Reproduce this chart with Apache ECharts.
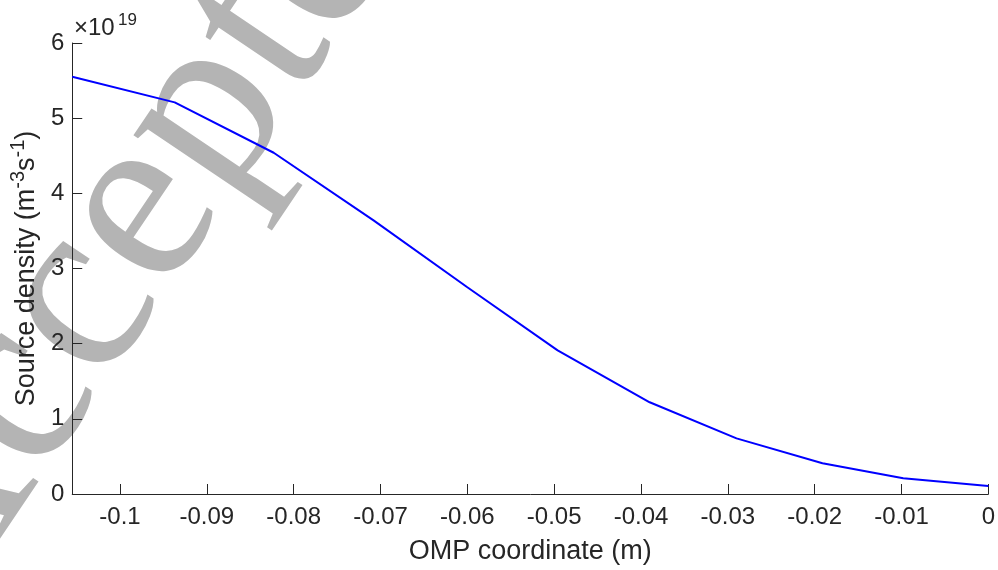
<!DOCTYPE html>
<html>
<head>
<meta charset="utf-8">
<script src="https://cdn.jsdelivr.net/npm/echarts@6/dist/echarts.min.js"></script>
<style>
  html, body { margin: 0; padding: 0; background: #fff; }
  #chart { width: 998px; height: 570px; }
</style>
</head>
<body>
<div id="chart"></div>
<script>
// OMP coordinate (m)
var ompCoord = [-0.1055, -0.0937, -0.0823, -0.0708, -0.0600, -0.0496, -0.0390, -0.0290, -0.0191, -0.0098, 0];
// source density, in units of 1e19 m^-3 s^-1
var sourceDensity = [5.55, 5.21, 4.54, 3.64, 2.75, 1.91, 1.22, 0.74, 0.41, 0.21, 0.105];

var xTicks = [-0.1, -0.09, -0.08, -0.07, -0.06, -0.05, -0.04, -0.03, -0.02, -0.01, 0];
var xTickLabels = ["-0.1", "-0.09", "-0.08", "-0.07", "-0.06", "-0.05", "-0.04", "-0.03", "-0.02", "-0.01", "0"];
var yTickLabels = ["0", "1", "2", "3", "4", "5", "6"];

var axisColor = "#262626";
var sans = "Liberation Sans";

var chart = echarts.init(document.getElementById("chart"));

var points = ompCoord.map(function (x, i) {
  return [x, sourceDensity[i]];
});

var option = {
  animation: false,
  backgroundColor: "#fff",
  grid: { left: 71, right: 8, top: 43, bottom: 71 },
  xAxis: {
    type: "value",
    min: -0.1055,
    max: 0,
    name: "OMP coordinate (m)",
    nameLocation: "middle",
    nameGap: 44,
    nameTextStyle: { fontSize: 27, fontFamily: sans, color: axisColor },
    axisLine: { show: true, onZero: false, lineStyle: { color: axisColor, width: 1 } },
    axisTick: { show: true, inside: true, length: 10, customValues: xTicks, lineStyle: { color: axisColor } },
    axisLabel: {
      customValues: xTicks,
      fontSize: 24,
      fontFamily: sans,
      color: axisColor,
      margin: 11,
      formatter: function (v) {
        var i = xTicks.indexOf(v);
        return i >= 0 ? xTickLabels[i] : "";
      }
    },
    splitLine: { show: false }
  },
  yAxis: {
    type: "value",
    min: 0,
    max: 6,
    interval: 1,
    name: "{a|Source density (m}{s|-3}{a|s}{s|-1}{a|)}",
    nameLocation: "middle",
    nameRotate: 90,
    nameGap: 14,
    nameTextStyle: {
      rich: {
        a: { fontSize: 27, fontFamily: sans, color: axisColor, lineHeight: 32, verticalAlign: "bottom" },
        s: { fontSize: 20, fontFamily: sans, color: axisColor, lineHeight: 32, verticalAlign: "top" }
      }
    },
    axisLine: { show: true, onZero: false, lineStyle: { color: axisColor, width: 1 } },
    axisTick: { show: true, inside: true, length: 10, lineStyle: { color: axisColor } },
    axisLabel: {
      fontSize: 24,
      fontFamily: sans,
      color: axisColor,
      margin: 8,
      formatter: function (v) {
        return yTickLabels[Math.round(v)];
      }
    },
    splitLine: { show: false }
  },
  graphic: [
    {
      // "Accepted Manuscript" watermark behind the plot
      type: "text",
      silent: true,
      z: -10,
      x: -116,
      y: 593,
      rotation: (56 * Math.PI) / 180,
      style: {
        text: "Accepted Manuscript",
        fontSize: 250,
        fontFamily: "Liberation Serif",
        fill: "#b4b4b4",
        align: "left",
        verticalAlign: "middle"
      }
    },
    {
      type: "text",
      silent: true,
      z: 10,
      x: 74,
      y: 28,
      style: {
        text: "\u00d710",
        fontSize: 24,
        fontFamily: sans,
        fill: axisColor,
        align: "left",
        verticalAlign: "middle"
      }
    },
    {
      type: "text",
      silent: true,
      z: 10,
      x: 118,
      y: 20,
      style: {
        text: "19",
        fontSize: 17,
        fontFamily: sans,
        fill: axisColor,
        align: "left",
        verticalAlign: "middle"
      }
    }
  ],
  series: [
    {
      type: "line",
      data: points,
      showSymbol: false,
      lineStyle: { color: "#0000ff", width: 2 },
      z: 5
    }
  ]
};

chart.setOption(option);
</script>
</body>
</html>
